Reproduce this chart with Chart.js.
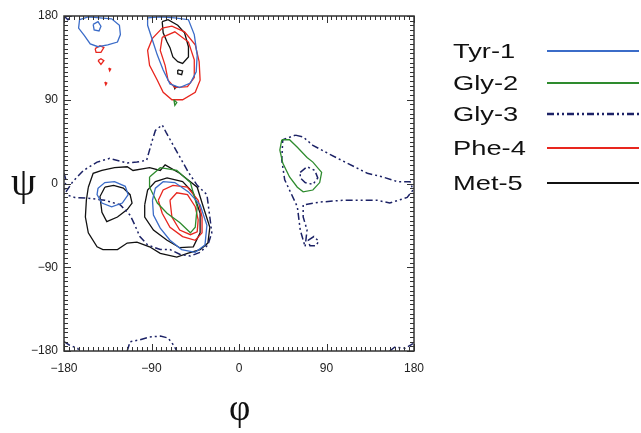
<!DOCTYPE html>
<html>
<head>
<meta charset="utf-8">
<script src="https://cdn.jsdelivr.net/npm/chart.js@4"></script>
<style>
  body { margin: 0; background: #fff; }
  #wrap { position: relative; width: 641px; height: 433px; }
  #chart { position: absolute; left: 0; top: 0; }
  .greek { position: absolute; font-family: "Liberation Serif", "DejaVu Serif", serif; color: #111; }
  .row { position: absolute; left: 453px; height: 26px; line-height: 26px; }
  .row span { display: inline-block; font-family: "Liberation Sans", Arial, sans-serif; font-size: 21px; color: #111;
              transform: scaleX(1.3); transform-origin: left center; }
  .row svg { position: absolute; left: 94px; top: 0; }
</style>
</head>
<body>
<div id="wrap">
  <canvas id="chart" width="641" height="433"></canvas>
  <div class="greek" style="left:11px; top:158px; font-size:40px;">ψ</div>
  <div class="greek" style="left:229px; top:386px; font-size:37px;">φ</div>
  <div id="legend"></div>
</div>
<script>
// residues in the legend, top to bottom
const residues = ['Tyr-1', 'Gly-2', 'Gly-3', 'Phe-4', 'Met-5'];
const colors = ['#3b6cc8', '#2e8b2e', '#1c2266', '#e8261e', '#111111'];
const dashes = [[], [], [7, 3, 2, 3, 2, 3], [], []];

// axis ticks (degrees)
const tickLabels = [-180, -90, 0, 90, 180];

// contour lines, [phi, psi] pairs
const tyr1 = [
  [[-164,176],[-155,179],[-143,178],[-131,177],[-123,170],[-122,160],[-125,152],[-135,149],[-145,147],[-153,150],[-159,159],[-165,167],[-164,176]],
  [[-150,171],[-145,174],[-142,169],[-144,164],[-149,165],[-150,171]],
  [[-94,178],[-81,179],[-66,178],[-52,176],[-46,160],[-43,138],[-44,120],[-50,108],[-61,103],[-71,107],[-78,122],[-84,138],[-89,154],[-94,170],[-94,178]],
  [[-145,-5],[-138,1],[-128,2],[-117,-3],[-114,-12],[-120,-21],[-131,-25],[-141,-21],[-146,-12],[-145,-5]],
  [[-89,-18],[-86,-5],[-78,2],[-66,1],[-52,-9],[-40,-23],[-33,-45],[-35,-66],[-45,-74],[-59,-71],[-71,-61],[-81,-48],[-88,-34],[-89,-18]]
];

const gly2 = [
  [[-92,7],[-81,17],[-64,14],[-50,1],[-43,-25],[-45,-47],[-50,-53],[-61,-42],[-74,-32],[-84,-21],[-92,-4],[-92,7]],
  [[44,47],[52,47],[60,39],[70,28],[76,23],[85,12],[83,1],[76,-7],[66,-9],[60,-4],[52,7],[45,22],[42,36],[44,47]],
  [[-67,90],[-64,87],[-66,84],[-67,90]]
];

const gly3 = [
  [[-178,-9],[-171,2],[-160,14],[-146,23],[-133,27],[-115,22],[-105,23],[-95,25],[-89,47],[-86,57],[-79,63],[-75,55],[-66,38],[-59,25],[-52,12],[-43,-2],[-33,-12],[-30,-36],[-28,-53],[-32,-66],[-40,-74],[-50,-78],[-61,-76],[-71,-71],[-81,-71],[-94,-66],[-102,-57],[-107,-45],[-112,-34],[-122,-23],[-138,-18],[-153,-16],[-169,-15],[-178,-12]],
  [[58,52],[66,50],[76,41],[94,31],[111,22],[132,11],[148,7],[163,2],[176,2],[179,-7],[173,-15],[155,-21],[142,-18],[128,-18],[107,-18],[83,-20],[66,-23],[66,-36],[70,-50],[68,-68],[63,-50],[60,-25],[47,4],[44,25],[45,47],[58,52]],
  [[63,12],[70,18],[78,14],[81,6],[76,-1],[68,1],[63,6],[63,12]],
  [[71,-61],[77,-57],[82,-62],[79,-67],[73,-67],[71,-61]],
  [[-115,-180],[-112,-170],[-102,-168],[-92,-165],[-81,-164],[-73,-166],[-67,-174],[-64,-180]],
  [[-180,-170],[-174,-174],[-166,-177],[-164,-180]],
  [[155,-180],[160,-176],[171,-177],[179,-172]],
  [[-180,180],[-176,176],[-172,180]],
  [[-180,11],[-178,4],[-180,-12]]
];

const phe4 = [
  [[-79,167],[-69,169],[-56,163],[-45,149],[-41,131],[-40,111],[-45,98],[-58,90],[-69,90],[-78,98],[-84,111],[-92,127],[-94,143],[-89,156],[-79,167]],
  [[-79,157],[-66,163],[-52,152],[-46,133],[-46,114],[-53,104],[-66,103],[-73,111],[-76,127],[-81,143],[-79,157]],
  [[-83,-18],[-78,-7],[-68,-2],[-53,-4],[-42,-18],[-38,-36],[-38,-53],[-45,-61],[-58,-57],[-71,-47],[-79,-32],[-83,-18]],
  [[-71,-18],[-64,-10],[-53,-12],[-45,-25],[-42,-39],[-43,-52],[-50,-55],[-61,-50],[-69,-36],[-71,-18]],
  [[-148,145],[-143,148],[-139,146],[-142,141],[-147,141],[-148,145]],
  [[-145,132],[-142,134],[-139,132],[-142,128],[-145,132]],
  [[-134,124],[-132,123],[-133,121],[-134,124]],
  [[-138,109],[-136,108],[-137,106],[-138,109]]
];

const met5 = [
  [[-79,174],[-73,176],[-63,170],[-56,162],[-52,147],[-52,136],[-58,129],[-63,131],[-68,136],[-71,146],[-74,152],[-78,162],[-79,174]],
  [[-63,122],[-58,121],[-59,117],[-63,118],[-63,122]],
  [[-67,105],[-65,104],[-66,102],[-67,105]],
  [[-155,-4],[-150,11],[-141,14],[-128,17],[-115,18],[-109,14],[-92,17],[-81,14],[-76,20],[-61,11],[-43,-4],[-38,-21],[-30,-47],[-32,-64],[-40,-71],[-53,-75],[-64,-79],[-81,-75],[-92,-68],[-105,-63],[-115,-64],[-125,-71],[-140,-71],[-146,-68],[-155,-53],[-158,-36],[-157,-18],[-155,-4]],
  [[-138,-4],[-129,-2],[-119,-5],[-112,-12],[-110,-21],[-115,-28],[-125,-36],[-136,-41],[-141,-31],[-143,-14],[-138,-4]],
  [[-97,-23],[-94,-7],[-86,2],[-74,6],[-58,2],[-47,-10],[-40,-32],[-40,-53],[-47,-68],[-61,-69],[-74,-61],[-88,-50],[-97,-36],[-97,-23]]
];

const contours = [tyr1, gly2, gly3, phe4, met5];

const datasets = [];
contours.forEach((set, i) => {
  set.forEach(line => {
    datasets.push({
      label: residues[i],
      data: line.map(p => ({ x: p[0], y: p[1] })),
      showLine: true,
      borderColor: colors[i],
      borderWidth: i === 2 ? 1.5 : 1.3,
      borderDash: dashes[i],
      pointRadius: 0,
      tension: 0,
      fill: false
    });
  });
});

function degLabel(v) {
  if (!tickLabels.includes(v)) return '';
  return v < 0 ? '\u2212' + Math.abs(v) : String(v);
}

// frame with inward ticks on all four sides
const frameTicks = {
  id: 'frameTicks',
  afterDatasetsDraw(chart) {
    const { ctx, chartArea: a, scales: { x, y } } = chart;
    ctx.save();
    ctx.strokeStyle = '#333';
    ctx.lineWidth = 1.5;
    ctx.strokeRect(a.left, a.top, a.right - a.left, a.bottom - a.top);
    ctx.lineWidth = 1;
    ctx.beginPath();
    x.ticks.forEach(t => {
      const px = Math.round(x.getPixelForValue(t.value)) + 0.5;
      const len = t.value % 90 === 0 ? 7 : 4;
      ctx.moveTo(px, a.bottom); ctx.lineTo(px, a.bottom - len);
      ctx.moveTo(px, a.top); ctx.lineTo(px, a.top + len);
    });
    y.ticks.forEach(t => {
      const py = Math.round(y.getPixelForValue(t.value)) + 0.5;
      const len = t.value % 90 === 0 ? 7 : 4;
      ctx.moveTo(a.left, py); ctx.lineTo(a.left + len, py);
      ctx.moveTo(a.right, py); ctx.lineTo(a.right - len, py);
    });
    ctx.stroke();
    ctx.restore();
  }
};

const tickFont = { family: '"Liberation Sans", Arial, sans-serif', size: 12 };

new Chart(document.getElementById('chart'), {
  type: 'scatter',
  data: { datasets },
  options: {
    responsive: false,
    animation: false,
    layout: { padding: { top: 16, left: 0, right: 227, bottom: 0 } },
    plugins: { legend: { display: false }, tooltip: { enabled: false } },
    scales: {
      x: {
        type: 'linear', min: -180, max: 180,
        grid: { display: false, drawTicks: false },
        border: { display: false },
        ticks: { stepSize: 5, autoSkip: false, maxRotation: 0, padding: 10, color: '#222', font: tickFont, callback: degLabel },
        afterFit(scale) { scale.height = 82; }
      },
      y: {
        type: 'linear', min: -180, max: 180,
        grid: { display: false, drawTicks: false },
        border: { display: false },
        ticks: { stepSize: 5, autoSkip: false, padding: 6, color: '#222', font: tickFont, callback: degLabel },
        afterFit(scale) { scale.width = 64; }
      }
    }
  },
  plugins: [frameTicks]
});

// legend: name on the left, line sample on the right
const rowCenters = [51, 83, 114, 148, 183];
const legend = document.getElementById('legend');
residues.forEach((name, i) => {
  const row = document.createElement('div');
  row.className = 'row';
  row.style.top = (rowCenters[i] - 13) + 'px';
  const dash = dashes[i].length ? ` stroke-dasharray="${dashes[i].join(' ')}"` : '';
  row.innerHTML = `<span>${name}</span><svg width="92" height="26"><line x1="0" y1="13" x2="92" y2="13" stroke="${colors[i]}" stroke-width="${i === 2 ? 2.5 : 1.8}"${dash}/></svg>`;
  legend.appendChild(row);
});
</script>
</body>
</html>
